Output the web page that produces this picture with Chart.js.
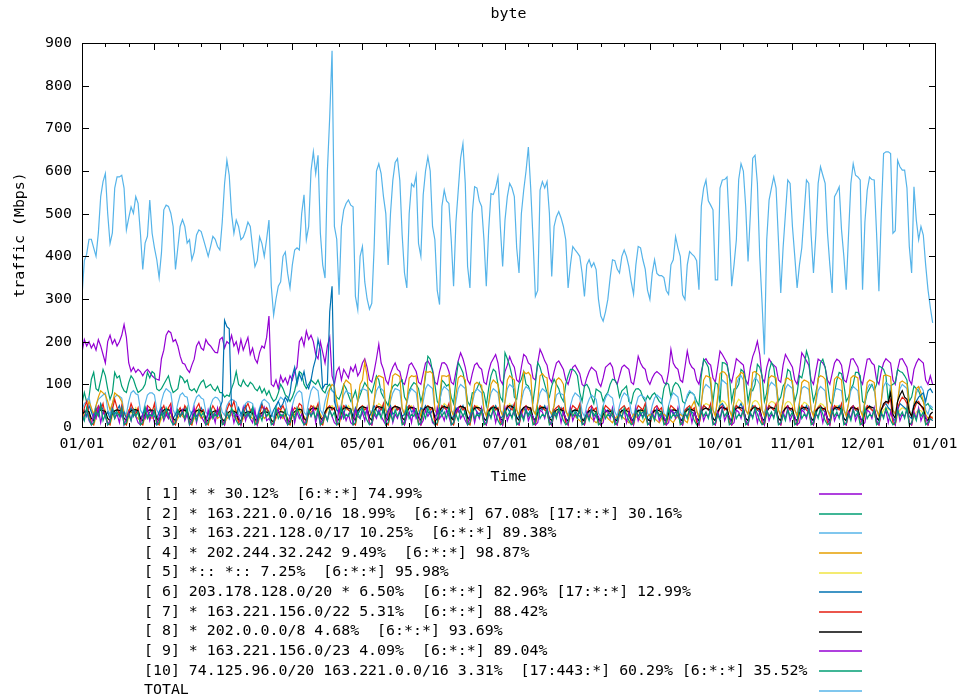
<!DOCTYPE html>
<html>
<head>
<meta charset="utf-8">
<title>byte</title>
<script src="https://cdn.jsdelivr.net/npm/chart.js@4.4.1/dist/chart.umd.min.js"></script>
<style>
  html, body { margin: 0; padding: 0; background: #fff; }
  canvas { display: block; }
</style>
</head>
<body>
<canvas id="myChart" width="958" height="700"></canvas>
<script>
// day-of-year where each month starts (x axis is days since 01/01)
const monthStarts = [0, 31, 59, 90, 120, 151, 181, 212, 243, 273, 304, 334, 365];
const monthLabels = ["01/01", "02/01", "03/01", "04/01", "05/01", "06/01", "07/01",
                     "08/01", "09/01", "10/01", "11/01", "12/01", "01/01"];

const seriesNames = [
    "[ 1] * * 30.12%  [6:*:*] 74.99%",
    "[ 2] * 163.221.0.0/16 18.99%  [6:*:*] 67.08% [17:*:*] 30.16%",
    "[ 3] * 163.221.128.0/17 10.25%  [6:*:*] 89.38%",
    "[ 4] * 202.244.32.242 9.49%  [6:*:*] 98.87%",
    "[ 5] *:: *:: 7.25%  [6:*:*] 95.98%",
    "[ 6] 203.178.128.0/20 * 6.50%  [6:*:*] 82.96% [17:*:*] 12.99%",
    "[ 7] * 163.221.156.0/22 5.31%  [6:*:*] 88.42%",
    "[ 8] * 202.0.0.0/8 4.68%  [6:*:*] 93.69%",
    "[ 9] * 163.221.156.0/23 4.09%  [6:*:*] 89.04%",
    "[10] 74.125.96.0/20 163.221.0.0/16 3.31%  [17:443:*] 60.29% [6:*:*] 35.52%",
    "TOTAL",
];

// daily values, Mbps
const s1 = [
    175, 205, 190, 200, 185, 195, 180, 205, 190, 170, 150, 200, 215, 195, 205, 190, 200, 215, 240, 210,
    150, 130, 140, 128, 135, 130, 120, 130, 135, 128, 120, 115, 112, 110, 160, 180, 215, 225, 221, 200,
    205, 190, 166, 150, 147, 135, 128, 145, 159, 190, 200, 185, 180, 205, 195, 190, 182, 175, 174, 205,
    210, 185, 200, 195, 215, 190, 200, 175, 205, 180, 195, 210, 170, 185, 160, 150, 175, 190, 185, 210,
    260, 100, 95, 110, 90, 120, 105, 115, 100, 120, 110, 130, 140, 200, 210, 190, 225, 205, 215, 200,
    170, 160, 200, 175, 150, 190, 210, 120, 100, 130, 140, 110, 135, 125, 115, 140, 130, 145, 120, 130,
    150, 160, 140, 110, 105, 130, 160, 194, 150, 135, 110, 100, 125, 140, 150, 135, 130, 105, 100, 120,
    145, 150, 140, 130, 105, 100, 125, 150, 155, 145,
    135, 105, 100, 130, 150, 151, 145, 130, 105, 100, 130, 155, 174, 160, 140, 110, 100, 125, 145, 150,
    140, 135, 105, 100, 130, 150, 160, 170, 150, 110,
    100, 130, 145, 165, 150, 140, 110, 105, 140, 170, 165, 150, 145, 115, 110, 150, 182, 170, 155, 145,
    115, 105, 130, 150, 155, 145, 135, 110, 100, 120,
    140, 145, 135, 125, 100, 95, 115, 130, 140, 135, 130, 105, 95, 115, 140, 145, 150, 140, 110, 100,
    120, 140, 145, 140, 135, 105, 100, 130, 166, 150,
    140, 135, 110, 100, 115, 125, 130, 125, 120, 104, 100, 130, 182, 150, 140, 135, 110, 105, 140, 178,
    150, 140, 135, 110, 100, 130, 155, 160, 150, 145,
    115, 105, 140, 178, 170, 160, 150, 115, 105, 130, 160, 155, 150, 145, 110, 100, 140, 165, 180, 201,
    170, 115, 105, 140, 160, 150, 145, 140, 110, 105,
    145, 170, 160, 150, 140, 110, 100, 130, 174, 165, 155, 145, 110, 100, 130, 159, 155, 150, 140, 110,
    100, 125, 150, 159, 155, 145, 110, 105, 130, 159,
    160, 150, 140, 110, 100, 130, 159, 160, 150, 145, 110, 100, 130, 150, 160, 155, 150, 110, 100, 135,
    159, 160, 150, 140, 110, 100, 135, 150, 160, 155, 150, 110, 100, 120, 100,
];
const s2 = [
    55, 81, 58, 70, 112, 128, 90, 85, 110, 135, 120, 89, 65, 80, 128, 115, 120, 96, 85, 81, 104, 120, 112, 95, 81, 85, 90, 100, 128, 115,
    130, 125, 89, 85, 90, 100, 110, 120, 96, 81, 85, 90, 120, 115, 104, 110, 89, 85, 90, 81, 95, 105, 110, 92, 96, 100, 90, 85, 95, 81,
    80, 70, 75, 72, 90, 105, 130, 100, 95, 110, 100, 95, 105, 100, 90, 85, 95, 80, 90, 75, 85, 70, 60, 65, 80, 100, 90, 75, 70, 60,
    70, 85, 110, 130, 125, 100, 90, 100, 110, 105, 100, 110, 95, 85, 80, 95, 100, 85, 80, 70, 65, 80, 100, 90, 75, 60, 70, 85, 60, 75,
    90, 104, 95, 89, 80, 100, 120, 110, 81, 70, 60, 50, 81, 95, 100, 96, 105, 110, 70, 60, 85, 96, 104, 100, 90, 60, 80, 120, 166, 159,
    130, 100, 60, 50, 110, 104, 96, 100, 70, 55, 110, 151, 140, 128, 100, 60, 50, 80, 81, 90, 104, 89, 80, 50, 90, 120, 135, 130, 100, 70,
    60, 174, 160, 143, 120, 70, 65, 100, 112, 130, 100, 96, 80, 60, 100, 151, 140, 120, 100, 80, 70, 96, 112, 100, 90, 70, 60, 100, 120, 135,
    135, 130, 120, 80, 60, 96, 100, 90, 70, 55, 89, 85, 81, 60, 73, 81, 100, 112, 110, 100, 70, 85, 90, 96, 60, 55, 80, 89, 90, 85,
    70, 60, 73, 65, 75, 80, 70, 60, 55, 90, 104, 100, 70, 95, 104, 100, 90, 60, 55, 70, 81, 80, 75, 60, 50, 120, 159, 151, 140, 100,
    60, 104, 100, 55, 151, 150, 145, 120, 60, 89, 90, 100, 135, 130, 110, 60, 89, 85, 100, 147, 140, 120, 60, 80, 130, 151, 140, 100, 60, 70,
    96, 104, 135, 130, 100, 60, 80, 120, 115, 140, 178, 160, 96, 60, 80, 110, 150, 159, 140, 100, 60, 50, 80, 110, 128, 125, 100, 60, 70, 89,
    100, 128, 128, 120, 60, 55, 80, 90, 100, 85, 100, 143, 140, 135, 120, 60, 96, 100, 104, 135, 130, 128, 120, 110, 60, 70, 96, 90, 85, 70,
    60, 50, 55, 45, 40,
];
const s3 = [
    40, 55, 60, 70, 40, 30, 50, 65, 70, 75, 80, 40, 30, 55, 70, 75, 72, 68, 35, 30, 60, 80, 85, 78, 75, 40, 30, 55, 75, 80,
    80, 75, 40, 30, 60, 80, 90, 85, 80, 40, 28, 55, 75, 80, 72, 70, 40, 30, 55, 70, 75, 68, 65, 35, 28, 50, 65, 70, 68, 60,
    35, 28, 50, 60, 65, 62, 58, 30, 25, 45, 55, 60, 58, 55, 30, 25, 45, 60, 65, 60, 55, 30, 22, 45, 60, 70, 65, 60, 30, 25,
    50, 70, 80, 85, 80, 35, 28, 60, 85, 95, 90, 85, 40, 30, 60, 80, 90, 85, 80, 40, 30, 55, 75, 85, 80, 78, 40, 30, 60, 85,
    90, 88, 85, 40, 30, 60, 85, 95, 90, 85, 40, 30, 60, 80, 90, 88, 85, 40, 30, 55, 80, 90, 85, 80, 40, 28, 60, 90, 100, 95,
    90, 40, 30, 60, 85, 95, 90, 85, 40, 30, 60, 90, 100, 95, 90, 40, 30, 55, 80, 90, 85, 80, 38, 28, 55, 80, 90, 85, 80, 40,
    30, 60, 90, 100, 95, 90, 40, 30, 60, 85, 95, 90, 85, 40, 30, 55, 80, 90, 85, 80, 38, 28, 50, 75, 80, 78, 75, 35, 28, 50,
    70, 80, 75, 70, 35, 25, 50, 65, 75, 70, 65, 32, 25, 50, 68, 78, 72, 68, 35, 25, 50, 70, 80, 75, 70, 35, 25, 50, 70, 75,
    72, 68, 32, 25, 50, 68, 75, 70, 65, 32, 25, 50, 70, 80, 75, 70, 35, 25, 55, 75, 85, 80, 75, 35, 28, 60, 90, 100, 95, 90,
    40, 30, 60, 95, 110, 105, 100, 40, 30, 60, 100, 115, 120, 110, 40, 30, 65, 105, 115, 110, 100, 40, 30, 60, 95, 105, 100, 95, 40, 30,
    60, 90, 100, 95, 90, 40, 30, 60, 90, 95, 92, 88, 40, 30, 55, 85, 95, 90, 85, 40, 30, 55, 85, 90, 88, 85, 40, 30, 55, 85,
    95, 90, 85, 40, 30, 60, 90, 100, 95, 90, 40, 30, 60, 95, 105, 100, 95, 40, 30, 60, 90, 100, 95, 90, 40, 30, 55, 80, 90, 95,
    85, 40, 30, 50, 45,
];
const s4 = [
    20, 30, 40, 60, 45, 30, 50, 70, 85, 80, 75, 60, 40, 55, 80, 75, 70, 60, 30, 25, 40, 35, 30, 25, 20, 15, 25, 30, 20, 25,
    20, 25, 15, 10, 20, 25, 30, 20, 25, 15, 10, 20, 30, 25, 20, 30, 15, 10, 20, 25, 30, 20, 25, 15, 10, 20, 25, 30, 20, 25,
    15, 10, 20, 25, 30, 25, 20, 15, 10, 20, 25, 30, 25, 20, 15, 10, 25, 30, 20, 25, 30, 15, 10, 20, 30, 25, 20, 30, 20, 10,
    25, 30, 35, 40, 30, 25, 15, 30, 35, 40, 45, 40, 30, 20, 25, 60, 90, 100, 95, 60, 30, 40, 100, 110, 105, 100, 40, 30, 60, 100,
    110, 152, 120, 40, 25, 60, 115, 120, 118, 115, 40, 25, 70, 120, 125, 122, 118, 45, 30, 60, 115, 120, 118, 120, 40, 25, 80, 130, 128, 130,
    125, 40, 30, 70, 120, 120, 118, 122, 40, 25, 75, 115, 120, 118, 110, 40, 30, 60, 100, 105, 100, 98, 40, 25, 55, 100, 110, 105, 100, 40,
    25, 60, 110, 120, 115, 110, 40, 25, 70, 130, 125, 128, 120, 40, 30, 60, 120, 125, 118, 115, 40, 30, 50, 110, 115, 110, 100, 40, 25, 40,
    30, 25, 20, 15, 10, 20, 25, 30, 20, 15, 10, 15, 20, 25, 30, 20, 15, 10, 20, 25, 30, 25, 20, 15, 10, 20, 30, 25, 20, 15,
    10, 20, 25, 30, 25, 20, 15, 10, 20, 30, 25, 20, 15, 10, 20, 25, 30, 25, 15, 10, 30, 50, 60, 40, 20, 50, 110, 120, 118, 115,
    40, 25, 70, 125, 130, 128, 120, 40, 25, 60, 115, 120, 128, 125, 40, 30, 70, 128, 130, 125, 120, 40, 25, 60, 115, 120, 118, 115, 40, 25,
    60, 112, 115, 110, 108, 40, 25, 55, 104, 110, 108, 104, 40, 25, 60, 115, 120, 118, 112, 40, 25, 60, 112, 118, 115, 110, 40, 25, 55, 115,
    120, 118, 115, 40, 25, 60, 104, 110, 108, 104, 40, 25, 60, 120, 122, 120, 118, 40, 30, 60, 104, 108, 104, 100, 40, 25, 50, 90, 95, 80,
    60, 30, 20, 25, 20,
];
const s5 = [
    25, 30, 40, 35, 8, 5, 20, 35, 45, 30, 40, 8, 5, 25, 38, 42, 30, 35, 8, 5, 22, 40, 35, 45, 30, 8, 5, 25, 35, 40,
    30, 42, 8, 5, 20, 35, 40, 45, 30, 8, 5, 25, 38, 30, 40, 35, 8, 5, 22, 35, 42, 30, 38, 8, 5, 20, 30, 40, 35, 30,
    8, 5, 25, 35, 30, 40, 38, 8, 5, 22, 30, 35, 40, 30, 8, 5, 20, 35, 42, 38, 30, 8, 5, 25, 30, 40, 35, 30, 8, 5,
    25, 35, 40, 45, 38, 8, 5, 30, 42, 50, 45, 40, 8, 5, 28, 40, 45, 50, 42, 8, 5, 30, 45, 40, 50, 42, 8, 5, 30, 40,
    50, 45, 40, 8, 5, 30, 45, 55, 50, 42, 8, 5, 28, 40, 50, 45, 40, 8, 5, 30, 45, 50, 42, 38, 8, 5, 30, 42, 50, 45,
    40, 8, 5, 30, 45, 55, 50, 42, 8, 5, 28, 40, 48, 45, 40, 8, 5, 30, 42, 50, 45, 38, 8, 5, 28, 40, 45, 50, 42, 8,
    5, 30, 45, 55, 48, 42, 8, 5, 28, 40, 50, 45, 40, 8, 5, 30, 42, 48, 45, 38, 8, 5, 25, 35, 40, 38, 32, 8, 5, 25,
    35, 40, 38, 32, 8, 5, 25, 35, 38, 40, 30, 8, 5, 22, 32, 38, 35, 30, 8, 5, 25, 35, 40, 38, 30, 8, 5, 25, 35, 38,
    35, 30, 8, 5, 25, 35, 40, 38, 30, 8, 5, 25, 35, 42, 40, 35, 8, 5, 28, 40, 45, 42, 38, 8, 5, 30, 50, 55, 52, 48,
    10, 5, 35, 55, 62, 58, 50, 10, 5, 35, 55, 65, 60, 52, 10, 5, 38, 58, 62, 60, 50, 10, 5, 35, 55, 60, 58, 50, 10, 5,
    35, 55, 60, 58, 50, 10, 5, 32, 50, 58, 55, 48, 10, 5, 30, 48, 55, 52, 45, 8, 5, 30, 45, 50, 48, 42, 8, 5, 28, 42,
    48, 45, 40, 8, 5, 28, 40, 45, 42, 38, 8, 5, 28, 40, 45, 42, 38, 8, 5, 28, 40, 45, 42, 38, 8, 5, 25, 35, 40, 38,
    32, 8, 5, 20, 25,
];
const s6 = [
    30, 40, 25, 50, 35, 20, 45, 30, 55, 40, 25, 35, 20, 45, 30, 40, 50, 25, 35, 20, 30, 45, 25, 40, 35, 20, 30, 45, 25, 35,
    40, 25, 20, 35, 45, 30, 40, 25, 35, 20, 30, 40, 25, 35, 45, 30, 20, 35, 40, 25, 30, 45, 35, 20, 30, 40, 25, 35, 30, 45,
    60, 250, 235, 230, 40, 35, 25, 45, 30, 40, 50, 25, 35, 45, 30, 20, 40, 55, 35, 45, 30, 25, 40, 50, 60, 45, 55, 70, 60, 80,
    120, 140, 100, 125, 110, 130, 100, 90, 110, 140, 160, 205, 180, 90, 100, 100, 270, 330, 60, 40, 35, 45, 30, 50, 40, 35, 25, 45, 30, 40,
    45, 30, 40, 25, 35, 50, 40, 30, 45, 35, 25, 40, 50, 30, 35, 45, 40, 25, 30, 45, 50, 35, 40, 30, 25, 45, 40, 50, 35, 30,
    40, 25, 30, 45, 35, 50, 40, 30, 20, 25, 45, 35, 40, 50, 30, 20, 25, 40, 45, 35, 30, 40, 20, 15, 35, 45, 40, 50, 35, 20,
    25, 40, 45, 35, 50, 30, 20, 25, 40, 45, 35, 30, 40, 20, 15, 35, 45, 40, 50, 35, 20, 25, 40, 30, 35, 45, 30, 20, 15, 30,
    35, 40, 30, 25, 15, 20, 30, 35, 40, 30, 25, 15, 20, 30, 35, 40, 30, 25, 15, 20, 30, 40, 35, 30, 25, 15, 20, 35, 40, 30,
    35, 25, 15, 20, 30, 40, 35, 30, 25, 15, 20, 35, 40, 30, 35, 25, 15, 20, 35, 45, 40, 35, 30, 20, 15, 35, 50, 45, 40, 35,
    20, 15, 35, 50, 55, 45, 40, 20, 15, 40, 50, 45, 55, 40, 20, 15, 35, 50, 45, 40, 35, 20, 15, 40, 50, 45, 40, 35, 20, 15,
    35, 45, 50, 40, 35, 20, 15, 35, 45, 40, 50, 35, 20, 15, 30, 45, 50, 40, 35, 20, 15, 35, 45, 40, 50, 35, 20, 15, 30, 45,
    50, 40, 35, 20, 15, 35, 45, 50, 40, 35, 20, 15, 40, 50, 55, 45, 40, 20, 15, 40, 55, 50, 45, 40, 25, 20, 50, 60, 70, 75,
    80, 60, 85, 90, 80,
];
const s7 = [
    20, 45, 60, 30, 10, 5, 35, 50, 40, 55, 25, 10, 5, 40, 65, 45, 30, 50, 10, 5, 35, 55, 40, 30, 45, 10, 5, 30, 50, 45,
    35, 55, 10, 5, 40, 50, 30, 45, 55, 10, 5, 35, 45, 30, 50, 40, 10, 5, 30, 45, 55, 35, 40, 10, 5, 35, 50, 40, 30, 45,
    10, 5, 40, 55, 45, 60, 35, 10, 5, 30, 45, 55, 40, 35, 10, 5, 30, 50, 40, 45, 35, 10, 5, 30, 45, 40, 50, 35, 10, 5,
    35, 45, 40, 55, 50, 10, 5, 35, 50, 45, 40, 55, 10, 5, 30, 45, 50, 40, 45, 10, 5, 35, 50, 45, 40, 35, 10, 5, 40, 45,
    50, 40, 45, 10, 5, 35, 50, 45, 40, 55, 10, 5, 30, 45, 50, 40, 45, 10, 5, 35, 50, 45, 40, 35, 10, 5, 40, 45, 50, 40,
    45, 10, 5, 35, 50, 45, 40, 55, 10, 5, 30, 45, 50, 40, 45, 10, 5, 35, 50, 45, 40, 35, 10, 5, 40, 45, 50, 40, 45, 10,
    5, 35, 50, 45, 40, 55, 10, 5, 30, 45, 50, 40, 45, 10, 5, 35, 50, 45, 40, 35, 10, 5, 40, 45, 50, 40, 45, 10, 5, 35,
    50, 45, 40, 55, 10, 5, 30, 45, 50, 40, 45, 10, 5, 35, 50, 45, 40, 35, 10, 5, 40, 45, 50, 40, 45, 10, 5, 35, 50, 45,
    40, 55, 10, 5, 30, 45, 50, 40, 45, 10, 5, 35, 50, 45, 40, 35, 10, 5, 40, 45, 50, 40, 45, 10, 5, 35, 50, 45, 40, 55,
    10, 5, 30, 45, 50, 40, 45, 10, 5, 35, 50, 45, 40, 35, 10, 5, 40, 45, 50, 40, 45, 10, 5, 35, 50, 45, 40, 55, 10, 5,
    30, 45, 50, 40, 45, 10, 5, 35, 50, 45, 40, 35, 10, 5, 40, 45, 50, 40, 45, 10, 5, 35, 50, 45, 40, 55, 10, 5, 30, 45,
    50, 40, 45, 10, 5, 35, 50, 45, 40, 35, 10, 5, 40, 50, 60, 55, 65, 10, 5, 45, 60, 70, 65, 55, 10, 5, 40, 55, 60, 50,
    40, 10, 5, 25, 20,
];
const s8 = [
    30, 35, 38, 36, 20, 15, 30, 36, 40, 38, 37, 20, 15, 32, 38, 40, 39, 36, 20, 16, 32, 38, 40, 41, 38, 20, 15, 30, 38, 40,
    39, 37, 20, 15, 32, 40, 42, 40, 38, 20, 15, 30, 38, 40, 39, 36, 20, 15, 32, 38, 40, 38, 36, 18, 14, 30, 36, 38, 37, 35,
    18, 14, 30, 36, 38, 37, 34, 18, 14, 28, 34, 36, 35, 33, 18, 14, 28, 34, 36, 35, 33, 16, 12, 28, 34, 36, 35, 33, 16, 12,
    30, 36, 40, 42, 40, 20, 15, 35, 42, 45, 44, 42, 22, 16, 36, 44, 46, 45, 42, 22, 16, 36, 44, 46, 44, 42, 22, 16, 38, 46,
    48, 46, 44, 22, 16, 38, 46, 48, 46, 44, 22, 16, 38, 46, 48, 47, 44, 22, 16, 36, 44, 46, 45, 42, 22, 16, 38, 46, 48, 46,
    44, 22, 16, 38, 46, 48, 46, 44, 22, 16, 38, 46, 48, 47, 44, 22, 16, 36, 44, 46, 45, 42, 20, 15, 36, 44, 46, 45, 42, 20,
    15, 36, 46, 50, 48, 44, 22, 16, 38, 46, 48, 46, 44, 22, 16, 36, 44, 46, 45, 42, 20, 15, 34, 40, 42, 40, 38, 18, 14, 32,
    38, 40, 38, 36, 18, 14, 32, 38, 40, 38, 36, 18, 14, 30, 36, 38, 37, 35, 18, 14, 32, 38, 40, 38, 36, 18, 14, 32, 38, 40,
    38, 36, 18, 14, 32, 38, 40, 38, 36, 18, 14, 32, 38, 40, 39, 37, 18, 14, 34, 40, 42, 40, 38, 20, 15, 36, 42, 44, 42, 40,
    20, 15, 36, 44, 46, 44, 42, 20, 15, 36, 44, 46, 45, 42, 20, 15, 36, 44, 46, 44, 42, 20, 15, 36, 44, 46, 44, 42, 20, 15,
    36, 44, 46, 44, 42, 20, 15, 36, 44, 46, 45, 42, 20, 15, 36, 44, 46, 44, 42, 20, 15, 36, 44, 46, 45, 42, 20, 15, 36, 44,
    46, 44, 42, 20, 15, 36, 44, 48, 46, 44, 22, 16, 40, 55, 60, 58, 80, 30, 20, 60, 75, 85, 70, 65, 35, 25, 50, 60, 55, 50,
    45, 20, 15, 30, 35,
];
const s9 = [
    10, 25, 40, 15, 5, 30, 20, 45, 10, 35, 25, 5, 15, 40, 20, 30, 10, 45, 5, 20, 35, 15, 40, 25, 10, 5, 30, 20, 45, 15,
    35, 10, 5, 25, 40, 15, 30, 20, 45, 5, 10, 35, 25, 40, 15, 30, 5, 20, 45, 10, 35, 25, 15, 5, 40, 20, 30, 10, 45, 25,
    15, 5, 35, 20, 40, 10, 30, 25, 5, 45, 15, 35, 20, 10, 40, 5, 30, 25, 45, 15, 20, 10, 5, 35, 40, 20, 30, 15, 5, 25,
    45, 10, 35, 20, 30, 5, 15, 40, 25, 45, 10, 35, 5, 20, 30, 15, 40, 25, 10, 5, 45, 20, 35, 15, 30, 10, 5, 40, 25, 20,
    35, 15, 45, 10, 5, 30, 20, 40, 25, 15, 5, 35, 45, 10, 30, 20, 40, 15, 5, 25, 35, 10, 45, 20, 30, 5, 15, 40, 25, 35,
    10, 5, 45, 20, 30, 15, 40, 25, 5, 10, 35, 45, 20, 30, 15, 5, 25, 40, 10, 35, 20, 45, 15, 5, 30, 25, 40, 10, 35, 20,
    5, 45, 15, 30, 25, 40, 10, 5, 35, 20, 45, 15, 30, 25, 5, 10, 40, 35, 20, 45, 15, 5, 30, 25, 40, 10, 35, 20, 5, 45,
    15, 30, 25, 40, 10, 5, 35, 20, 45, 15, 30, 25, 5, 10, 40, 35, 20, 45, 15, 5, 30, 25, 40, 10, 35, 20, 5, 45, 15, 30,
    25, 40, 10, 5, 35, 20, 45, 15, 30, 25, 5, 10, 40, 35, 20, 45, 15, 5, 30, 25, 40, 10, 35, 20, 5, 45, 15, 30, 25, 40,
    10, 5, 35, 20, 45, 15, 30, 25, 5, 10, 40, 35, 20, 45, 15, 5, 30, 25, 40, 10, 35, 20, 5, 45, 15, 30, 25, 40, 10, 5,
    35, 20, 45, 15, 30, 25, 5, 10, 40, 35, 20, 45, 15, 5, 30, 25, 40, 10, 35, 20, 5, 45, 15, 30, 25, 40, 10, 5, 35, 20,
    45, 15, 30, 25, 5, 10, 40, 35, 20, 45, 15, 5, 30, 25, 40, 10, 35, 20, 5, 45, 15, 30, 25, 40, 10, 5, 35, 20, 45, 15,
    30, 25, 5, 20, 15,
];
const s10 = [
    30, 15, 45, 20, 5, 10, 35, 25, 50, 15, 30, 5, 10, 40, 20, 35, 25, 45, 5, 10, 30, 15, 40, 25, 35, 5, 10, 45, 20, 30,
    25, 40, 5, 10, 35, 20, 45, 30, 15, 5, 10, 40, 25, 35, 20, 45, 5, 10, 30, 15, 40, 25, 35, 5, 10, 45, 20, 30, 25, 40,
    5, 10, 35, 20, 45, 30, 15, 5, 10, 40, 25, 35, 20, 45, 5, 10, 30, 15, 40, 25, 35, 5, 10, 45, 20, 30, 25, 40, 5, 10,
    35, 20, 45, 30, 15, 5, 10, 40, 25, 35, 20, 45, 5, 10, 30, 15, 40, 25, 35, 5, 10, 45, 20, 30, 25, 40, 5, 10, 35, 20,
    45, 30, 15, 5, 10, 40, 25, 35, 20, 45, 5, 10, 30, 15, 40, 25, 35, 5, 10, 45, 20, 30, 25, 40, 5, 10, 35, 20, 45, 30,
    15, 5, 10, 40, 25, 35, 20, 45, 5, 10, 30, 15, 40, 25, 35, 5, 10, 45, 20, 30, 25, 40, 5, 10, 35, 20, 45, 30, 15, 5,
    10, 40, 25, 35, 20, 45, 5, 10, 30, 15, 40, 25, 35, 5, 10, 45, 20, 30, 25, 40, 5, 10, 35, 20, 45, 30, 15, 5, 10, 40,
    25, 35, 20, 45, 5, 10, 30, 15, 40, 25, 35, 5, 10, 45, 20, 30, 25, 40, 5, 10, 35, 20, 45, 30, 15, 5, 10, 40, 25, 35,
    20, 45, 5, 10, 30, 15, 40, 25, 35, 5, 10, 45, 20, 30, 25, 40, 5, 10, 35, 20, 45, 30, 15, 5, 10, 40, 25, 35, 20, 45,
    5, 10, 30, 15, 40, 25, 35, 5, 10, 45, 20, 30, 25, 40, 5, 10, 35, 20, 45, 30, 15, 5, 10, 40, 25, 35, 20, 45, 5, 10,
    30, 15, 40, 25, 35, 5, 10, 45, 20, 30, 25, 40, 5, 10, 35, 20, 45, 30, 15, 5, 10, 40, 25, 35, 20, 45, 5, 10, 30, 15,
    40, 25, 35, 5, 10, 45, 20, 30, 25, 40, 5, 10, 35, 20, 45, 30, 15, 5, 10, 40, 25, 35, 20, 45, 5, 10, 30, 15, 40, 25,
    35, 5, 10, 20, 15,
];
const total = [
    306, 390, 405, 440, 440, 420, 400, 455, 540, 575, 594, 500, 430, 455, 560, 586, 586, 590, 560, 462, 490, 516, 501, 540, 524, 454, 369, 431, 447, 532,
    454, 420, 392, 350, 408, 509, 520, 517, 501, 470, 369, 420, 470, 486, 470, 431, 439, 392, 410, 450, 462, 458, 439, 420, 400, 423, 447, 440, 423, 415,
    480, 570, 625, 590, 500, 454, 485, 470, 439, 445, 460, 480, 470, 420, 376, 390, 446, 430, 400, 440, 485, 330, 262, 300, 330, 340, 400, 410, 360, 326,
    380, 415, 420, 415, 500, 544, 439, 470, 600, 645, 594, 637, 454, 380, 349, 600, 727, 882, 470, 440, 310, 470, 509, 524, 532, 520, 516, 306, 275, 400,
    423, 340, 300, 276, 290, 420, 600, 617, 594, 540, 500, 380, 500, 578, 620, 629, 578, 450, 361, 326, 500, 570, 563, 590, 430, 400, 544, 600, 633, 600,
    470, 439, 320, 287, 517, 555, 530, 524, 439, 330, 480, 555, 630, 664, 571, 376, 326, 500, 563, 560, 530, 517, 439, 330, 460, 547, 545, 560, 586, 470,
    376, 485, 540, 571, 560, 540, 420, 361, 500, 555, 600, 656, 560, 439, 306, 320, 555, 575, 560, 575, 501, 353, 470, 493, 505, 490, 470, 439, 326, 380,
    423, 415, 408, 400, 361, 306, 380, 392, 375, 385, 369, 299, 260, 248, 270, 299, 350, 392, 390, 370, 361, 400, 415, 400, 376, 340, 311, 380, 423, 420,
    392, 370, 320, 299, 360, 392, 360, 355, 355, 350, 320, 311, 380, 392, 446, 420, 400, 310, 299, 380, 411, 405, 400, 390, 322, 517, 560, 579, 530, 520,
    509, 345, 345, 560, 579, 580, 586, 470, 330, 380, 439, 580, 617, 600, 517, 388, 500, 630, 637, 571, 400, 291, 170, 439, 532, 560, 586, 560, 439, 314,
    420, 500, 579, 571, 470, 400, 326, 380, 420, 500, 579, 571, 450, 361, 450, 571, 610, 590, 571, 454, 380, 314, 540, 550, 563, 462, 400, 322, 450, 571,
    617, 590, 586, 579, 322, 480, 555, 586, 580, 579, 454, 318, 500, 641, 645, 645, 641, 454, 460, 625, 610, 602, 602, 560, 423, 361, 563, 485, 439, 470,
    450, 380, 322, 280, 244,
];

// gnuplot default line colours
const lineColors = ["#9400d3", "#009e73", "#56b4e9", "#e69f00", "#f0e442", "#0072b2",
                    "#e51e10", "#000000", "#9400d3", "#009e73", "#56b4e9"];

const FONT = '"DejaVu Sans Mono", monospace';
const FONT_SIZE = 14.9;

const allSeries = [s1, s2, s3, s4, s5, s6, s7, s8, s9, s10, total];

const datasets = allSeries.map((vals, i) => ({
    label: seriesNames[i],
    data: vals.map((v, d) => ({ x: d, y: v })),
    borderColor: lineColors[i],
    backgroundColor: lineColors[i],
    borderWidth: 1.2,
    pointRadius: 0,
    tension: 0,
    fill: false,
    order: allSeries.length - 1 - i, // later series on top, like gnuplot
}));

// frame, inward ticks, title, axis titles and the key under the plot
const gnuplotLook = {
    id: "gnuplotLook",
    afterDatasetsDraw(chart) {
        const { ctx, chartArea: a } = chart;
        const xs = chart.scales.x;
        const ys = chart.scales.y;
        ctx.save();
        ctx.strokeStyle = "#000";
        ctx.lineWidth = 1;
        ctx.beginPath();
        ctx.rect(a.left + 0.5, a.top + 0.5, a.right - a.left, a.bottom - a.top);

        ys.ticks.forEach((t) => {
            const py = Math.round(ys.getPixelForValue(t.value)) + 0.5;
            ctx.moveTo(a.left, py);
            ctx.lineTo(a.left + 7, py);
            ctx.moveTo(a.right + 1, py);
            ctx.lineTo(a.right - 6, py);
        });

        monthStarts.forEach((m, i) => {
            const px = Math.round(xs.getPixelForValue(m)) + 0.5;
            ctx.moveTo(px, a.bottom);
            ctx.lineTo(px, a.bottom - 7);
            ctx.moveTo(px, a.top);
            ctx.lineTo(px, a.top + 7);
            if (i < monthStarts.length - 1) {
                [10, 20].forEach((off) => {
                    const mx = Math.round(xs.getPixelForValue(m + off)) + 0.5;
                    ctx.moveTo(mx, a.bottom);
                    ctx.lineTo(mx, a.bottom - 4);
                    ctx.moveTo(mx, a.top);
                    ctx.lineTo(mx, a.top + 4);
                });
            }
        });
        ctx.stroke();
        ctx.restore();
    },
    afterDraw(chart) {
        const { ctx, chartArea: a } = chart;
        const cx = (a.left + a.right) / 2;
        ctx.save();
        ctx.fillStyle = "#000";
        ctx.font = FONT_SIZE + "px " + FONT;
        ctx.textAlign = "center";
        ctx.textBaseline = "alphabetic";
        ctx.fillText("byte", cx, 18);
        ctx.fillText("Time", cx, 481);

        ctx.save();
        ctx.translate(24, (a.top + a.bottom) / 2);
        ctx.rotate(-Math.PI / 2);
        ctx.fillText("traffic (Mbps)", 0, 0);
        ctx.restore();

        // key
        ctx.textAlign = "left";
        ctx.textBaseline = "middle";
        chart.data.datasets.forEach((ds, i) => {
            const ry = 494 + i * 19.65;
            ctx.fillStyle = "#000";
            ctx.fillText(ds.label, 144, ry);
            ctx.strokeStyle = ds.borderColor;
            ctx.lineWidth = 1.5;
            ctx.beginPath();
            ctx.moveTo(819, Math.round(ry));
            ctx.lineTo(862, Math.round(ry));
            ctx.stroke();
        });
        ctx.restore();
    },
};

new Chart(document.getElementById("myChart"), {
    type: "line",
    data: { datasets: datasets },
    options: {
        responsive: false,
        animation: false,
        layout: { padding: { top: 43, right: 23, bottom: 0, left: 0 } },
        plugins: {
            legend: { display: false },
            tooltip: { enabled: false },
            title: { display: false },
        },
        scales: {
            x: {
                type: "linear",
                min: 0,
                max: 365,
                grid: { display: false, drawTicks: false },
                border: { display: false },
                afterBuildTicks: (scale) => {
                    scale.ticks = monthStarts.map((v) => ({ value: v }));
                },
                afterFit: (scale) => {
                    scale.height = 273;
                    scale.paddingLeft = 0;
                    scale.paddingRight = 0;
                },
                ticks: {
                    autoSkip: false,
                    maxRotation: 0,
                    padding: 8,
                    color: "#000",
                    font: { family: FONT, size: FONT_SIZE },
                    callback: (value, index) => monthLabels[index],
                },
            },
            y: {
                min: 0,
                max: 900,
                grid: { display: false, drawTicks: false },
                border: { display: false },
                afterFit: (scale) => {
                    scale.width = 82;
                    scale.paddingTop = 0;
                    scale.paddingBottom = 0;
                },
                ticks: {
                    stepSize: 100,
                    padding: 10,
                    color: "#000",
                    font: { family: FONT, size: FONT_SIZE },
                },
            },
        },
    },
    plugins: [gnuplotLook],
});
</script>
</body>
</html>
